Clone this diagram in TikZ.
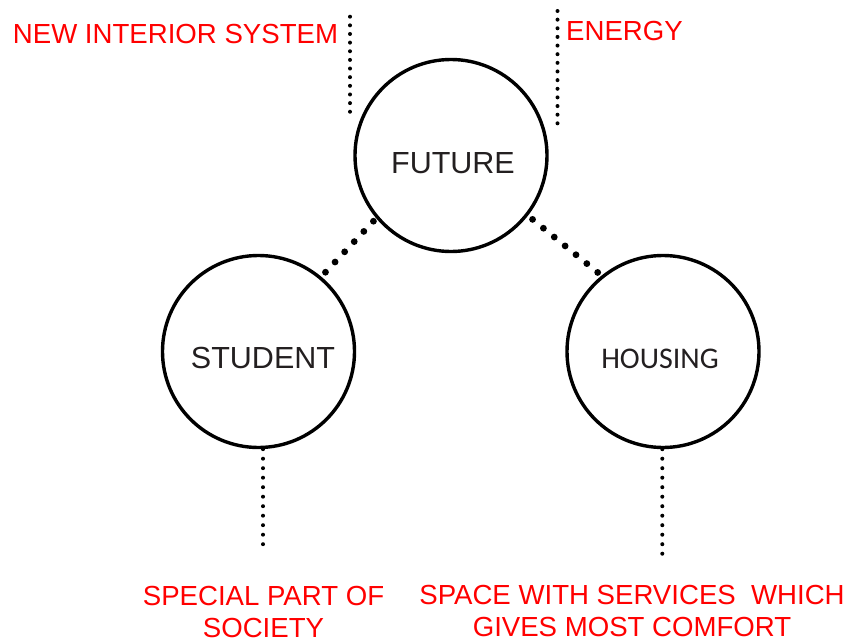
\documentclass[tikz,border=0pt]{standalone}
\usepackage{fontspec}
\setmainfont{Liberation Sans}
\newfontfamily\calibfont{Carlito}
\definecolor{txtgray}{HTML}{231F20}
\begin{document}
\begin{tikzpicture}[x=1pt,y=-1pt,
  bubble/.style={circle, draw=black, line width=3.4pt, minimum size=192pt, inner sep=0pt, text=txtgray},
  redlabel/.style={text=red, font=\fontsize{27.6}{32}\selectfont, inner sep=0pt, align=center, anchor=base},
  bigdots/.style={line width=6.8pt, line cap=round, dash pattern=on 0pt off 14pt},
  smalldots/.style={line width=4pt, line cap=round, dash pattern=on 0pt off #1}]
\useasboundingbox (0,0) rectangle (849,642);
\fill[white] (0,0) rectangle (849,642);

% circles
\node[bubble, font=\fontsize{30.5}{36}\selectfont] (fut) at (451,155.5)
  {\raisebox{-17.5pt}[0pt][0pt]{\makebox[0pt]{\hspace*{4pt}FUTURE}}};
\node[bubble, font=\fontsize{30.5}{36}\selectfont] (stu) at (258.5,351.5)
  {\raisebox{-16.5pt}[0pt][0pt]{\makebox[0pt]{\hspace*{9pt}STUDENT}}};
\node[bubble, font=\calibfont\fontsize{30}{36}\selectfont] (hou) at (663,351.5)
  {\raisebox{-16.5pt}[0pt][0pt]{\makebox[0pt]{HOUSING\hspace*{6pt}}}};

% labels
\node[redlabel] (nis) at (175.5,43.3) {NEW INTERIOR SYSTEM};
\node[redlabel] (ene) at (624.5,40.7) {ENERGY};
\node[redlabel] (spec) at (263.5,637.5) {SPECIAL PART OF\\SOCIETY};
\node[redlabel] (space) at (632,636) {SPACE WITH SERVICES\ \ WHICH\\GIVES MOST COMFORT};

% free ends
\coordinate (nisT) at (350,16.7);
\coordinate (nisB) at (350,112.2);
\coordinate (eneT) at (557.5,11);
\coordinate (eneB) at (557.5,123.8);
\coordinate (stuB) at (263,545.5);
\coordinate (houB) at (662.3,554);

% connectors
\draw[smalldots=8.64pt] (nisT) -- (nisB);
\draw[smalldots=8.64pt] (eneT) -- (eneB);
\draw[bigdots, shorten <=4pt, shorten >=5.5pt] (fut.220.8) -- (stu.50.9);
\draw[bigdots, shorten <=5.9pt, shorten >=4.6pt] (fut.-38.5) -- (hou.129.3);
\draw[smalldots=9.5pt] (stu.south -| stuB) -- (stuB);
\draw[smalldots=9.5pt] (hou.south -| houB) -- (houB);
\end{tikzpicture}
\end{document}
